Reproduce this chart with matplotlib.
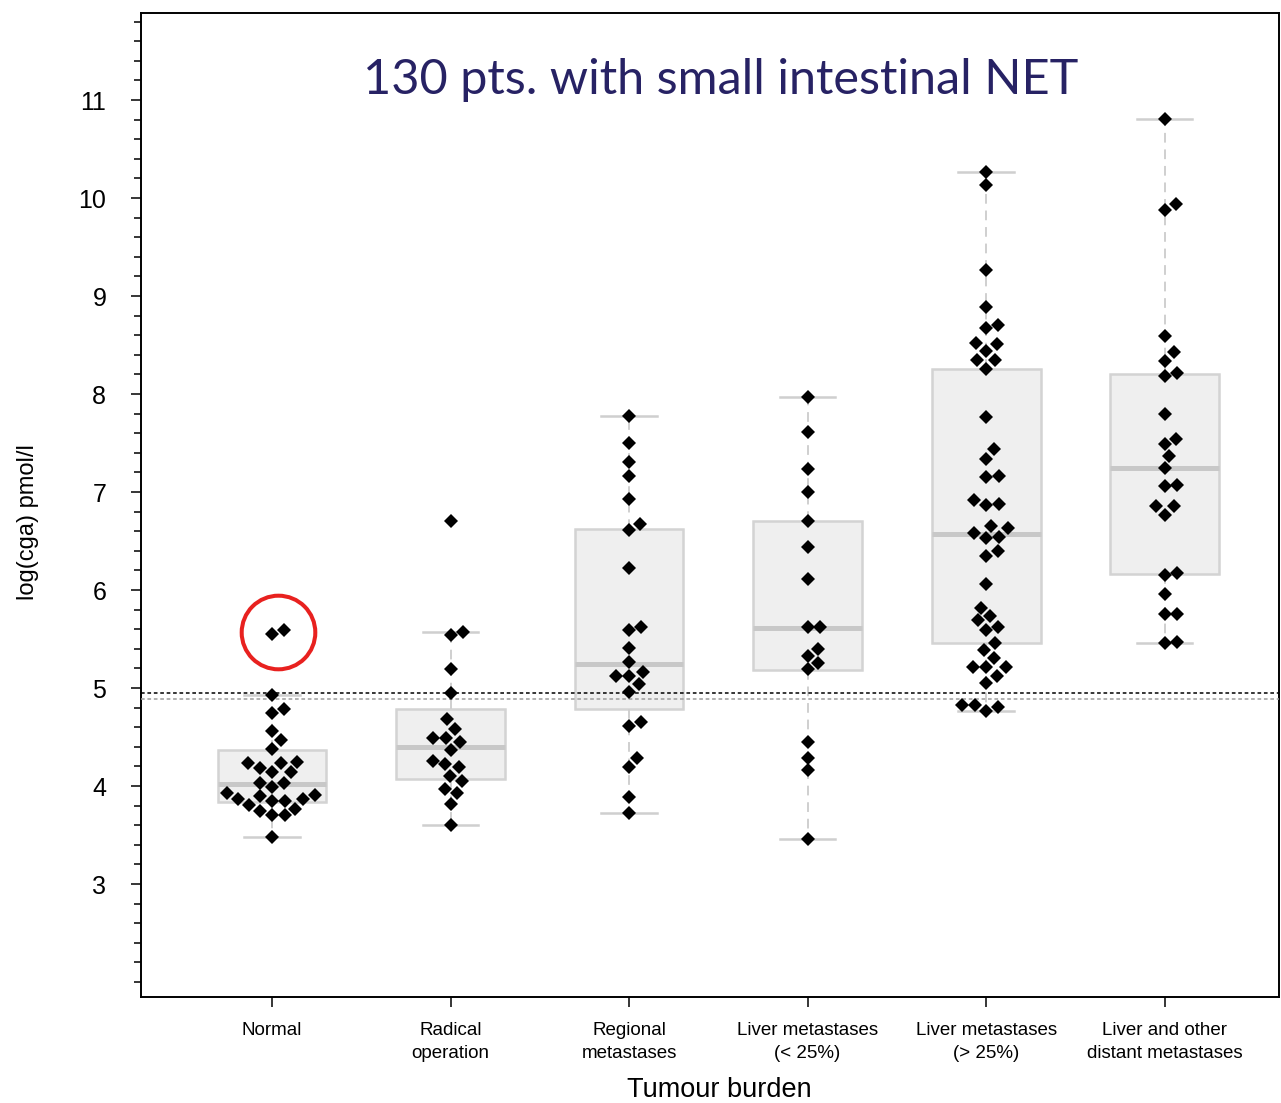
import numpy as np
import matplotlib
matplotlib.use("Agg")
import matplotlib.pyplot as plt
from matplotlib.ticker import MultipleLocator, FixedLocator

# log(cga) values per tumour-burden group
normal = [5.55, 5.59, 4.93, 4.79, 4.75, 4.56, 4.47, 4.38, 4.25, 4.23, 4.23, 4.18,
          4.14, 4.14, 4.03, 4.03, 3.99, 3.93, 3.91, 3.90, 3.87, 3.87, 3.85, 3.85,
          3.81, 3.77, 3.75, 3.70, 3.70, 3.48]
radical = [6.70, 5.57, 5.54, 5.19, 4.95, 4.68, 4.58, 4.49, 4.49, 4.45, 4.37, 4.26,
           4.22, 4.19, 4.10, 4.05, 3.97, 3.93, 3.82, 3.60]
regional = [7.78, 7.50, 7.31, 7.16, 6.93, 6.67, 6.61, 6.22, 5.62, 5.59, 5.41, 5.27,
            5.16, 5.12, 5.12, 5.04, 4.96, 4.65, 4.61, 4.29, 4.19, 3.89, 3.72]
liver_lt25 = [7.97, 7.61, 7.23, 7.00, 6.70, 6.44, 6.11, 5.62, 5.62, 5.40, 5.33, 5.26,
              5.19, 4.45, 4.29, 4.16, 3.46]
liver_gt25 = [10.27, 10.13, 9.27, 8.89, 8.70, 8.67, 8.52, 8.51, 8.44, 8.35, 8.35, 8.26,
              7.77, 7.44, 7.34, 7.16, 7.15, 6.92, 6.88, 6.87, 6.65, 6.63, 6.58, 6.54,
              6.53, 6.40, 6.35, 6.06, 5.82, 5.73, 5.69, 5.62, 5.59, 5.46, 5.39, 5.31,
              5.21, 5.21, 5.21, 5.12, 5.05, 4.83, 4.83, 4.81, 4.77]
liver_other = [10.81, 9.94, 9.88, 8.59, 8.43, 8.34, 8.21, 8.18, 7.80, 7.54, 7.49, 7.37,
               7.25, 7.07, 7.06, 6.86, 6.86, 6.77, 6.17, 6.15, 5.96, 5.76, 5.76, 5.47, 5.46]
groups = [normal, radical, regional, liver_lt25, liver_gt25, liver_other]

labels = ["Normal", "Radical\noperation", "Regional\nmetastases",
          "Liver metastases\n(< 25%)", "Liver metastases\n(> 25%)",
          "Liver and other\ndistant metastases"]

# box summaries (hinges, median, whisker ends)
q1 = [3.84, 4.07, 4.79, 5.18, 5.46, 6.16]
med = [4.02, 4.40, 5.25, 5.61, 6.57, 7.24]
q3 = [4.37, 4.79, 6.62, 6.70, 8.26, 8.20]
whislo = [3.48, 3.60, 3.72, 3.46, 4.77, 5.46]
whishi = [4.93, 5.57, 7.78, 7.97, 10.27, 10.81]

# cut-off lines
cutoff_upper = 4.95
cutoff_lower = 4.89

title = "130 pts. with small intestinal NET"

narrow = ["Liberation Sans Narrow", "Liberation Sans", "DejaVu Sans"]
plain = ["Liberation Sans", "DejaVu Sans"]

fig = plt.figure(figsize=(12.81, 11.03), dpi=100)
ax = fig.add_axes([141/1281, 1-997/1103, 1138/1281, 984/1103])
ax.set_xlim(-0.734, 5.641)
ax.set_ylim(1.847, 11.888)

stats = [dict(med=med[i], q1=q1[i], q3=q3[i], whislo=whislo[i], whishi=whishi[i], fliers=[])
         for i in range(len(groups))]
ax.bxp(stats, positions=range(len(groups)), widths=0.61, capwidths=0.31,
       showfliers=False, patch_artist=True,
       boxprops=dict(facecolor="#efefef", edgecolor="#d3d3d3", linewidth=1.8),
       medianprops=dict(color="#c8c8c8", linewidth=3.6, solid_capstyle="butt"),
       whiskerprops=dict(color="#cfcfcf", linestyle=(0, (5, 3.5)), linewidth=1.4),
       capprops=dict(color="#cfcfcf", linewidth=1.8))

ax.axhline(cutoff_upper, color="black", ls=(0, (2.4, 1.8)), lw=1.1, zorder=3)
ax.axhline(cutoff_lower, color="#9c9c9c", ls=(0, (2.4, 1.8)), lw=1.1, zorder=3)


def swarm(ypix, d):
    # ascending-priority beeswarm, offsets in pixels
    xs = np.zeros(len(ypix))
    done = []
    for i in np.argsort(ypix, kind="stable"):
        y = ypix[i]
        cand = [0.0]
        for j in done:
            dy = abs(y - ypix[j])
            if dy < d:
                dx = np.sqrt(d*d - dy*dy)
                cand += [xs[j] + dx, xs[j] - dx]
        cand.sort(key=lambda c: (round(abs(c), 6), -c))
        for c in cand:
            if all((c - xs[j])**2 + (y - ypix[j])**2 >= d*d - 1e-6 for j in done):
                xs[i] = c
                break
        done.append(i)
    return xs


px_per_x = ax.transData.transform((1, 0))[0] - ax.transData.transform((0, 0))[0]
swarm_x = []
for i, vals in enumerate(groups):
    vals = np.array(vals)
    ypix = ax.transData.transform(np.column_stack([np.zeros(len(vals)), vals]))[:, 1]
    xs = i + swarm(ypix, 12.6) / px_per_x
    swarm_x.append(xs)
    ax.plot(xs, vals, "D", color="black", ms=7, mew=0, zorder=4)

# highlight the two high values in the normal group
top2 = np.argsort(normal)[-2:]
cx = np.mean(swarm_x[0][top2])
cy = np.mean(np.array(normal)[top2])
ax.plot(cx, cy, "o", ms=53, mfc="none", mec="#e8211f", mew=2.9, zorder=5)

ax.yaxis.set_major_locator(FixedLocator(range(3, 12)))
ax.yaxis.set_minor_locator(MultipleLocator(0.2))
ax.set_xticks(range(len(groups)))
ax.set_xticklabels(labels, family=narrow, fontsize=13.5, linespacing=1.45)
for t in ax.get_yticklabels():
    t.set_family(plain)
ax.tick_params(axis="y", which="major", length=7, width=1.1, labelsize=18, pad=18)
ax.tick_params(axis="y", which="minor", length=5, width=1.1)
ax.tick_params(axis="x", length=7, width=1.1, pad=11)
for s in ax.spines.values():
    s.set_linewidth(1.4)

ax.set_xlabel("Tumour burden", family=narrow, fontsize=19.5)
ax.xaxis.set_label_coords(0.508, -0.081)
ax.set_ylabel("log(cga) pmol/l", family=narrow, fontsize=17)
ax.yaxis.set_label_coords(-0.09, 0.483)

ax.text(0.509, 0.932, title, transform=ax.transAxes, ha="center", va="center",
        family=["Lato", "DejaVu Sans"], fontsize=35, color="#272264")

fig.savefig("out.png", dpi=100)
